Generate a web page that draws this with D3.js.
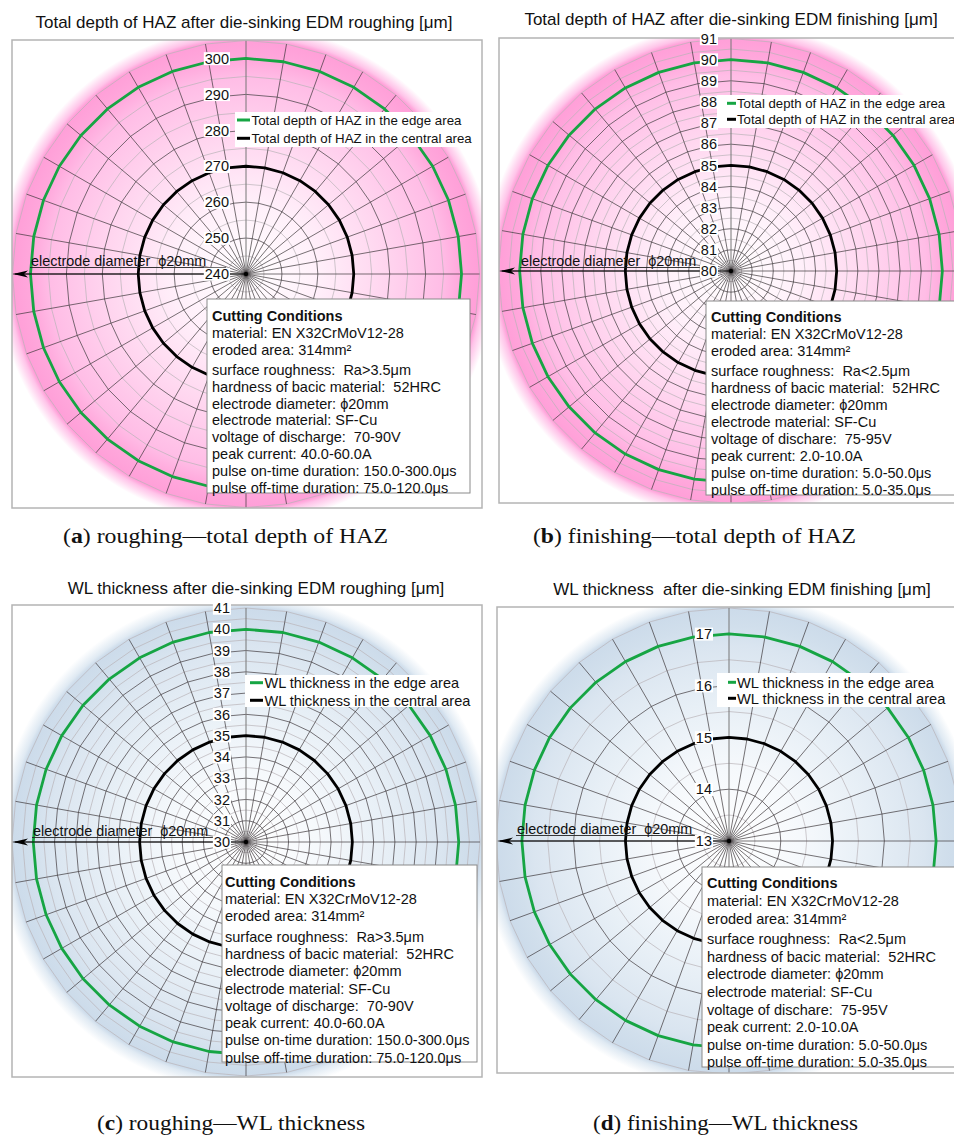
<!DOCTYPE html>
<html>
<head>
<meta charset="utf-8">
<script src="https://cdn.jsdelivr.net/npm/d3@7"></script>
<style>
  body { margin: 0; background: #fff; }
  svg { display: block; }
  text { font-family: "Liberation Sans", Arial, sans-serif; white-space: pre; }
  text.caption { font-family: "Liberation Serif", "Times New Roman", serif; }
</style>
</head>
<body>
<svg id="fig" width="954" height="1136"></svg>
<script>
// ---- data -------------------------------------------------------------
// measurement directions (degrees, clockwise from the top)
const angles = [0,10,20,30,40,50,60,70,80,90,100,110,120,130,140,150,160,170,
                180,190,200,210,220,230,240,250,260,270,280,290,300,310,320,330,340,350];

// total depth of HAZ [µm]
const hazRoughEdge    = [300,300,300,300,300,300,300,300,300,300,300,300,300,300,300,300,300,300,
                         300,300,300,300,300,300,300,300,300,300,300,300,300,300,300,300,300,300];
const hazRoughCentral = [270,270,270,270,270,270,270,270,270,270,270,270,270,270,270,270,270,270,
                         270,270,270,270,270,270,270,270,270,270,270,270,270,270,270,270,270,270];
const hazFinishEdge    = [90,90,90,90,90,90,90,90,90,90,90,90,90,90,90,90,90,90,
                          90,90,90,90,90,90,90,90,90,90,90,90,90,90,90,90,90,90];
const hazFinishCentral = [85,85,85,85,85,85,85,85,85,85,85,85,85,85,85,85,85,85,
                          85,85,85,85,85,85,85,85,85,85,85,85,85,85,85,85,85,85];

// white layer thickness [µm]
const wlRoughEdge    = [40,40,40,40,40,40,40,40,40,40,40,40,40,40,40,40,40,40,
                        40,40,40,40,40,40,40,40,40,40,40,40,40,40,40,40,40,40];
const wlRoughCentral = [35,35,35,35,35,35,35,35,35,35,35,35,35,35,35,35,35,35,
                        35,35,35,35,35,35,35,35,35,35,35,35,35,35,35,35,35,35];
const wlFinishEdge    = [17,17,17,17,17,17,17,17,17,17,17,17,17,17,17,17,17,17,
                         17,17,17,17,17,17,17,17,17,17,17,17,17,17,17,17,17,17];
const wlFinishCentral = [15,15,15,15,15,15,15,15,15,15,15,15,15,15,15,15,15,15,
                         15,15,15,15,15,15,15,15,15,15,15,15,15,15,15,15,15,15];

// radial tick labels
const hazRoughTicks  = [240,250,260,270,280,290,300];
const hazFinishTicks = [80,81,82,83,84,85,86,87,88,89,90,91];
const wlRoughTicks   = [30,31,32,33,34,35,36,37,38,39,40,41];
const wlFinishTicks  = [13,14,15,16,17];

// texts
const titles = [
  "Total depth of HAZ after die-sinking EDM roughing [\u03bcm]",
  "Total depth of HAZ after die-sinking EDM finishing [\u03bcm]",
  "WL thickness after die-sinking EDM roughing [\u03bcm]",
  "WL thickness  after die-sinking EDM finishing [\u03bcm]"
];
const captionLetters = ["a","b","c","d"];
const captionTexts = [
  " roughing\u2014total depth of HAZ",
  " finishing\u2014total depth of HAZ",
  " roughing\u2014WL thickness",
  " finishing\u2014WL thickness"
];
const legendHaz = ["Total depth of HAZ in the edge area", "Total depth of HAZ in the central area"];
const legendWL  = ["WL thickness in the edge area", "WL thickness in the central area"];
const seriesColors = ["#16a543", "#000000"];
const electrodeLabel = "electrode diameter  \u03d520mm";

const conditionsRough = [
  "Cutting Conditions",
  "material: EN X32CrMoV12-28",
  "eroded area: 314mm\u00b2",
  "surface roughness:  Ra>3.5\u03bcm",
  "hardness of bacic material:  52HRC",
  "electrode diameter: \u03d520mm",
  "electrode material: SF-Cu",
  "voltage of discharge:  70-90V",
  "peak current: 40.0-60.0A",
  "pulse on-time duration: 150.0-300.0\u03bcs",
  "pulse off-time duration: 75.0-120.0\u03bcs"
];
const conditionsFinish = [
  "Cutting Conditions",
  "material: EN X32CrMoV12-28",
  "eroded area: 314mm\u00b2",
  "surface roughness:  Ra<2.5\u03bcm",
  "hardness of bacic material:  52HRC",
  "electrode diameter: \u03d520mm",
  "electrode material: SF-Cu",
  "voltage of dischare:  75-95V",
  "peak current: 2.0-10.0A",
  "pulse on-time duration: 5.0-50.0\u03bcs",
  "pulse off-time duration: 5.0-35.0\u03bcs"
];

// background shading of the polar discs
const palettes = {
  pink: ["#ffffff", "#fff0fa", "#ffd5ef", "#ffbde6", "#ffa8dc", "#ff9fd8", "#ffc4e9"],
  blue: ["#ffffff", "#f6f9fc", "#e7eff6", "#dae5f0", "#d1dfec", "#ccdbea", "#e0eaf3"]
};

// ---- layout -----------------------------------------------------------
const panels = [
  { id: "a", cx: 246, cy: 274, R: 233.5, domain: [240, 305], major: 10, minor: 5,
    ticks: hazRoughTicks, edge: hazRoughEdge, central: hazRoughCentral, palette: "pink",
    frame: [12, 40, 470, 468], title: titles[0], titleX: 244, titleY: 27.5,
    capX: 63, capY: 543, capW: 325,
    legend: legendHaz, leg: { x: 235, y: 112, w: 242, h: 35, dx0: 237, dx1: 250, tx: 251.5, rows: [120, 138.3], fs: 13.3 },
    cond: conditionsRough, box: { x: 207, y: 299, w: 263, h: 194, tx: 212, first: 17, step: 16.9, gap: 3, fs: 14.5 },
    tickRight: 17, arrowX: 13, elX: 31, elY: 266 },
  { id: "b", cx: 731, cy: 271, R: 232.5, domain: [80, 91], major: 1, minor: 0.5,
    ticks: hazFinishTicks, edge: hazFinishEdge, central: hazFinishCentral, palette: "pink",
    frame: [499, 38, 470, 465], title: titles[1], titleX: 731, titleY: 25,
    capX: 533, capY: 543, capW: 323,
    legend: legendHaz, leg: { x: 717, y: 95, w: 245, h: 33, dx0: 727, dx1: 736, tx: 737, rows: [103.3, 119.3], fs: 13.2 },
    cond: conditionsFinish, box: { x: 706, y: 301, w: 260, h: 194, tx: 711, first: 16, step: 17, gap: 3, fs: 14.5 },
    tickRight: 14, arrowX: 500, elX: 521, elY: 266 },
  { id: "c", cx: 246, cy: 842, R: 234, domain: [30, 41], major: 1, minor: 0.5,
    ticks: wlRoughTicks, edge: wlRoughEdge, central: wlRoughCentral, palette: "blue",
    frame: [12, 605, 470, 472], title: titles[2], titleX: 256, titleY: 594,
    capX: 97, capY: 1130, capW: 268,
    legend: legendWL, leg: { x: 245, y: 675, w: 228, h: 32, dx0: 250, dx1: 263, tx: 264.5, rows: [682.7, 700.3], fs: 14.5 },
    cond: conditionsRough, box: { x: 222, y: 865, w: 255, h: 197, tx: 225, first: 16.7, step: 17.3, gap: 3, fs: 14.5 },
    tickRight: 16, arrowX: 13, elX: 33, elY: 836 },
  { id: "d", cx: 729, cy: 841, R: 233, domain: [13, 17.5], major: 1, minor: 0.5,
    ticks: wlFinishTicks, edge: wlFinishEdge, central: wlFinishCentral, palette: "blue",
    frame: [497, 607, 470, 466], title: titles[3], titleX: 742, titleY: 595,
    capX: 593, capY: 1130, capW: 265,
    legend: legendWL, leg: { x: 717, y: 673, w: 234, h: 34, dx0: 728, dx1: 736, tx: 737, rows: [682.3, 698.3], fs: 14.7 },
    cond: conditionsFinish, box: { x: 702, y: 867, w: 260, h: 200, tx: 707, first: 16.3, step: 17.6, gap: 3, fs: 14.5 },
    tickRight: 17, arrowX: 498, elX: 517, elY: 834 }
];

const svg = d3.select("#fig");
const defs = svg.append("defs");
const rad = d => d * Math.PI / 180;

panels.forEach((p, idx) => {
  const r = d3.scaleLinear().domain(p.domain).range([0, p.R]);
  const [fx, fy, fw, fh] = p.frame;

  defs.append("clipPath").attr("id", "clip-" + p.id)
    .append("rect").attr("x", fx).attr("y", fy).attr("width", fw).attr("height", fh);

  // radial shading with a soft halo outside the disc
  const glow = 15;
  const Rg = p.R + glow;
  const cols = palettes[p.palette];
  const stops = [
    [0, cols[0]], [0.3 * p.R, cols[1]], [0.6 * p.R, cols[2]], [0.84 * p.R, cols[3]],
    [0.92 * p.R, cols[4]], [p.R, cols[5]], [p.R + 4, cols[6]], [Rg, "#ffffff"]
  ];
  const grad = defs.append("radialGradient").attr("id", "shade-" + p.id)
    .attr("gradientUnits", "userSpaceOnUse")
    .attr("cx", p.cx).attr("cy", p.cy).attr("r", Rg);
  stops.forEach(([o, c]) => grad.append("stop").attr("offset", o / Rg).attr("stop-color", c));

  const g = svg.append("g");
  const plot = g.append("g").attr("clip-path", `url(#clip-${p.id})`);
  plot.append("rect").attr("x", fx).attr("y", fy).attr("width", fw).attr("height", fh).attr("fill", "#fff");
  plot.append("circle").attr("cx", p.cx).attr("cy", p.cy).attr("r", Rg).attr("fill", `url(#shade-${p.id})`);

  const c = plot.append("g").attr("transform", `translate(${p.cx},${p.cy})`);

  // polygonal grid rings
  const ringLine = v => d3.lineRadial()
    .angle(a => rad(a)).radius(() => r(v)).curve(d3.curveLinearClosed)(angles);
  const eps = 1e-9;
  const minorVals = d3.range(p.domain[0] + p.minor, p.domain[1] + eps, p.minor)
    .filter(v => Math.abs((v - p.domain[0]) / p.major - Math.round((v - p.domain[0]) / p.major)) > 1e-6 || v >= p.domain[1] - eps);
  const majorVals = d3.range(p.domain[0] + p.major, p.domain[1] - eps, p.major);

  c.selectAll("path.minor").data(minorVals).join("path").attr("class", "minor")
    .attr("d", ringLine).attr("fill", "none").attr("stroke", "#b9b3b8").attr("stroke-width", 0.7);
  c.selectAll("path.major").data(majorVals).join("path").attr("class", "major")
    .attr("d", ringLine).attr("fill", "none").attr("stroke", "#4a4448").attr("stroke-width", 0.75);

  // spokes
  c.selectAll("line.spoke").data(angles).join("line").attr("class", "spoke")
    .attr("x1", 0).attr("y1", 0)
    .attr("x2", a => p.R * Math.sin(rad(a)))
    .attr("y2", a => -p.R * Math.cos(rad(a)))
    .attr("stroke", a => a === 0 ? "#777" : "#3c3639")
    .attr("stroke-width", a => a === 0 ? 1 : 0.7);
  c.append("circle").attr("r", 2.2).attr("fill", "#000");

  // measured profiles
  const profile = d3.lineRadial()
    .angle((d, i) => rad(angles[i])).radius(d => r(d)).curve(d3.curveLinearClosed);
  [p.edge, p.central].forEach((vals, k) => {
    c.append("path").attr("d", profile(vals)).attr("fill", "none")
      .attr("stroke", seriesColors[k]).attr("stroke-width", 2.8).attr("stroke-linejoin", "round");
  });

  // electrode diameter arrow
  const ay = p.cy;
  plot.append("line").attr("x1", p.arrowX + 2).attr("y1", ay).attr("x2", p.cx).attr("y2", ay)
    .attr("stroke", "#000").attr("stroke-width", 1.2);
  plot.append("path")
    .attr("d", `M${p.arrowX},${ay} L${p.arrowX + 15},${ay - 3.5} L${p.arrowX + 11},${ay} L${p.arrowX + 15},${ay + 3.5} Z`)
    .attr("fill", "#000");
  plot.append("text").attr("x", p.elX).attr("y", p.elY)
    .attr("font-size", 14.4).attr("fill", "#111").text(electrodeLabel);
  plot.append("line").attr("x1", p.elX - 1).attr("x2", p.cx - 20)
    .attr("y1", p.elY + 1.5).attr("y2", p.elY + 1.5).attr("stroke", "#222").attr("stroke-width", 0.9);

  // legend
  const L = p.leg;
  plot.append("rect").attr("x", L.x).attr("y", L.y).attr("width", L.w).attr("height", L.h).attr("fill", "#fff");
  p.legend.forEach((s, k) => {
    plot.append("line").attr("x1", L.dx0).attr("x2", L.dx1).attr("y1", L.rows[k]).attr("y2", L.rows[k])
      .attr("stroke", seriesColors[k]).attr("stroke-width", 3);
    plot.append("text").attr("x", L.tx).attr("y", L.rows[k]).attr("dy", "0.36em")
      .attr("font-size", L.fs).attr("fill", "#111").text(s);
  });

  // cutting conditions box
  const B = p.box;
  plot.append("rect").attr("x", B.x).attr("y", B.y).attr("width", B.w).attr("height", B.h)
    .attr("fill", "#fff").attr("stroke", "#8a8a8a").attr("stroke-width", 1);
  p.cond.forEach((s, k) => {
    const y = B.y + B.first + k * B.step + (k >= 3 ? B.gap : 0) + 5;
    plot.append("text").attr("x", B.tx).attr("y", y)
      .attr("font-size", B.fs).attr("fill", "#111")
      .attr("font-weight", k === 0 ? "bold" : "normal")
      .text(s);
  });

  // frame
  g.append("rect").attr("x", fx).attr("y", fy).attr("width", fw).attr("height", fh)
    .attr("fill", "none").attr("stroke", "#b4b4b4").attr("stroke-width", 1.5);

  // radial tick labels on white plates (drawn over the frame)
  const ticksG = g.append("g");
  p.ticks.forEach(v => {
    const t = ticksG.append("text").attr("x", p.cx - p.tickRight).attr("y", p.cy - r(v))
      .attr("dy", "0.36em").attr("text-anchor", "end").attr("font-size", 14.5).attr("fill", "#111")
      .text(v);
    const b = t.node().getBBox();
    ticksG.insert("rect", () => t.node())
      .attr("x", b.x - 1).attr("y", b.y + 1.5).attr("width", b.width + 2).attr("height", b.height - 3)
      .attr("fill", "#fff");
  });

  // title
  svg.append("text").attr("x", p.titleX).attr("y", p.titleY).attr("text-anchor", "middle")
    .attr("font-size", 17).attr("fill", "#111").text(p.title);

  // caption
  const cap = svg.append("text").attr("class", "caption").attr("x", p.capX).attr("y", p.capY)
    .attr("font-size", 22).attr("fill", "#111")
    .attr("textLength", p.capW).attr("lengthAdjust", "spacingAndGlyphs");
  cap.append("tspan").text("(");
  cap.append("tspan").attr("font-weight", "bold").text(captionLetters[idx]);
  cap.append("tspan").text(")" + captionTexts[idx]);
});
</script>
</body>
</html>
